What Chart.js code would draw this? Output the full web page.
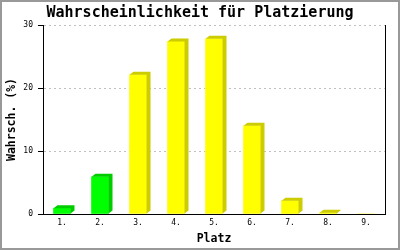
<!DOCTYPE html>
<html><head><meta charset="utf-8">
<script src="https://cdn.jsdelivr.net/npm/chart.js@4/dist/chart.umd.min.js"></script>
<style>html,body{margin:0;padding:0;background:#fff;overflow:hidden;}canvas{display:block;}</style>
</head><body>
<canvas id="c" width="400" height="250"></canvas>
<script>
const chartTitle = 'Wahrscheinlichkeit für Platzierung';
const xAxisTitle = 'Platz';
const yAxisTitle = 'Wahrsch. (%)';
const places = ['1.', '2.', '3.', '4.', '5.', '6.', '7.', '8.', '9.'];
const probability = [0.9, 5.9, 22.1, 27.4, 27.8, 14.0, 2.1, 0.2, 0];
const yTicks = [0, 10, 20, 30];
const frontColors = ['#00ff00', '#00ff00', '#ffff00', '#ffff00', '#ffff00', '#ffff00', '#ffff00', '#ffff00', '#ffff00'];
const sideColors = ['#00cc00', '#00cc00', '#cccc00', '#cccc00', '#cccc00', '#cccc00', '#cccc00', '#cccc00', '#cccc00'];

const MONO = '"DejaVu Sans Mono", "Liberation Mono", monospace';
const DEPTH_X = 4, DEPTH_Y = 3;

const framePlugin = {
  id: 'frame',
  beforeDraw(chart) {
    const ctx = chart.ctx;
    ctx.save();
    ctx.fillStyle = '#ffffff';
    ctx.fillRect(0, 0, chart.width, chart.height);
    ctx.restore();
  },
  afterDraw(chart) {
    const ctx = chart.ctx;
    ctx.save();
    ctx.strokeStyle = '#999999';
    ctx.lineWidth = 2;
    ctx.strokeRect(1, 1, chart.width - 2, chart.height - 2);
    ctx.restore();
  }
};

const bar3dPlugin = {
  id: 'bar3d',
  afterDatasetsDraw(chart) {
    const ctx = chart.ctx;
    const meta = chart.getDatasetMeta(0);
    const ds = chart.data.datasets[0];
    meta.data.forEach((bar, i) => {
      if (!ds.data[i]) return;
      const p = bar.getProps(['x', 'y', 'base', 'width'], true);
      const left = p.x - p.width / 2, right = p.x + p.width / 2;
      ctx.save();
      ctx.fillStyle = sideColors[i];
      ctx.beginPath();
      ctx.moveTo(left, p.y);
      ctx.lineTo(left + DEPTH_X, p.y - DEPTH_Y);
      ctx.lineTo(right + DEPTH_X, p.y - DEPTH_Y);
      ctx.lineTo(right + DEPTH_X, p.base - DEPTH_Y);
      ctx.lineTo(right, p.base);
      ctx.lineTo(right, p.y);
      ctx.closePath();
      ctx.fill();
      ctx.restore();
    });
  }
};

new Chart(document.getElementById('c'), {
  type: 'bar',
  data: {
    labels: places,
    datasets: [{
      data: probability,
      backgroundColor: frontColors,
      borderWidth: 0,
      barThickness: 17
    }]
  },
  options: {
    responsive: false,
    animation: false,
    devicePixelRatio: 1,
    layout: { padding: 0 },
    plugins: {
      legend: { display: false },
      tooltip: { enabled: false },
      title: {
        display: true,
        text: chartTitle,
        color: '#000',
        font: { family: MONO, size: 15, weight: 'bold', lineHeight: 1.2 },
        padding: { top: 4, bottom: 3 }
      }
    },
    scales: {
      x: {
        grid: { display: false, drawTicks: false },
        border: { display: true, color: '#000', width: 1 },
        ticks: { color: '#000', font: { family: MONO, size: 8 }, padding: 4, maxRotation: 0 },
        title: {
          display: true, text: xAxisTitle, color: '#000',
          font: { family: MONO, size: 11.5, weight: 'bold', lineHeight: 1.2 },
          padding: { top: 0, bottom: 4 }
        },
        afterFit(scale) { scale.height = 36; }
      },
      y: {
        min: 0, max: 30,
        afterBuildTicks(scale) { scale.ticks = yTicks.map(v => ({ value: v })); },
        grid: {
          color: ctx => (ctx.tick && ctx.tick.value === 0) ? 'rgba(0,0,0,0)' : '#c0c0c0',
          lineWidth: 1,
          drawTicks: true,
          tickLength: 5,
          tickColor: '#000',
          tickWidth: 1,
          tickBorderDash: []
        },
        border: { display: true, color: '#000', width: 1, dash: [2, 3] },
        ticks: { color: '#000', font: { family: MONO, size: 8 }, padding: 5 },
        title: {
          display: true, text: yAxisTitle, color: '#000',
          font: { family: MONO, size: 11.5, weight: 'bold', lineHeight: 1.2 },
          padding: { top: 5, bottom: 0 }
        },
        afterFit(scale) { scale.width = 43; }
      },
      y2: {
        position: 'right',
        min: 0, max: 30,
        grid: { display: false, drawTicks: false, drawOnChartArea: false },
        border: { display: true, color: '#000', width: 1 },
        ticks: { display: false },
        afterFit(scale) { scale.width = 15; }
      }
    }
  },
  plugins: [framePlugin, bar3dPlugin]
});
</script>
</body></html>
